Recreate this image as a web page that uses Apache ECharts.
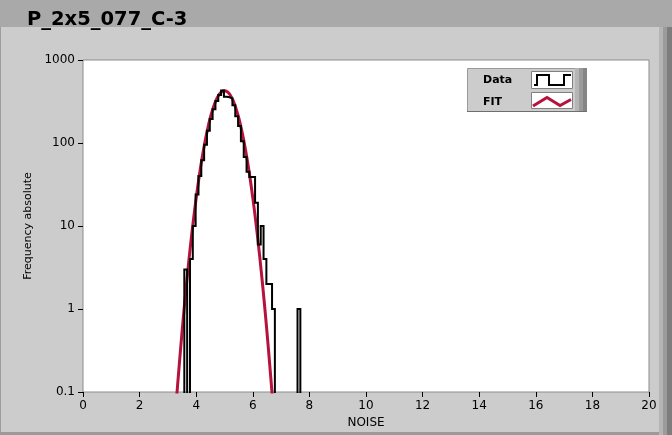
<!DOCTYPE html>
<html><head><meta charset="utf-8">
<script src="https://cdn.jsdelivr.net/npm/echarts@6/dist/echarts.min.js"></script>
<style>html,body{margin:0;padding:0;background:#cccccc;}#c{width:672px;height:435px;}</style>
</head><body><div id="c"></div>
<script>
// ---- data ----
const chartTitle = 'P_2x5_077_C-3';
const xName = 'NOISE';
const yName = 'Frequency absolute';
const xTicks = [0, 2, 4, 6, 8, 10, 12, 14, 16, 18, 20];
const yTicks = [0.1, 1, 10, 100, 1000];
const seriesNames = ['Data', 'FIT'];
// histogram: first bin left edge, bin width, counts per bin
const binStart = 3.58;
const binWidth = 0.1;
const dataCounts = [3, 0, 4, 10, 24, 40, 62, 95, 140, 195, 255, 320, 380, 430,
  360, 355, 345, 285, 210, 160, 105, 68, 45, 39, 39, 19, 6, 10, 4, 2, 2, 1,
  0, 0, 0, 0, 0, 0, 0, 0, 1];
// fitted curve, read at points along x
const fitX = [3.2, 3.3, 3.4, 3.5, 3.6, 3.7, 3.8, 3.9, 4.0, 4.1, 4.2, 4.3, 4.4, 4.5, 4.6, 4.7, 4.8, 4.9, 5.0,
  5.1, 5.2, 5.3, 5.4, 5.5, 5.6, 5.7, 5.8, 5.9, 6.0, 6.1, 6.2, 6.3, 6.4, 6.5, 6.6, 6.7, 6.8];
const fitY = [0.028, 0.079, 0.21, 0.53, 1.26, 2.8, 5.9, 11.7, 21.8, 38.4, 63.6, 99.5, 146, 203, 265, 327, 379, 414, 427,
  414, 379, 327, 265, 203, 146, 99.5, 63.6, 38.4, 21.8, 11.7, 5.9, 2.8, 1.26, 0.53, 0.21, 0.079, 0.028];

// ---- build series ----
const FLOOR = 0.001; // empty bins drop below the log axis
const dataLine = [[binStart, FLOOR]];
let lastEdge = binStart;
dataCounts.forEach((c, i) => {
  const l = +(binStart + i * binWidth).toFixed(3);
  const r = +(l + binWidth).toFixed(3);
  const v = c > 0 ? c : FLOOR;
  dataLine.push([l, v], [r, v]);
  lastEdge = r;
});
dataLine.push([lastEdge, FLOOR]);
const fitLine = fitX.map((x, i) => [x, fitY[i]]);

const FONT = 'DejaVu Sans';
const RED = '#b5123e';
const chart = echarts.init(document.getElementById('c'), null, {renderer: 'canvas'});
chart.setOption({
  animation: false,
  backgroundColor: '#cccccc',
  title: {
    text: chartTitle, left: 27, top: 10, padding: 0,
    textStyle: {fontFamily: FONT, fontWeight: 'bold', fontSize: 19.5, color: '#000'}
  },
  grid: {left: 83, top: 60, width: 566, height: 332, show: true, backgroundColor: '#ffffff',
    borderColor: '#8c8c8c', borderWidth: 1},
  xAxis: {
    type: 'value', min: xTicks[0], max: xTicks[xTicks.length - 1], interval: xTicks[1] - xTicks[0],
    name: xName, nameLocation: 'middle', nameGap: 24,
    nameTextStyle: {fontFamily: FONT, fontSize: 12, color: '#000'},
    axisLine: {show: false},
    axisTick: {show: true, length: 5, lineStyle: {color: '#000'}},
    axisLabel: {fontFamily: FONT, fontSize: 12, color: '#000', margin: 8},
    splitLine: {show: false}
  },
  yAxis: {
    type: 'log', logBase: 10, min: yTicks[0], max: yTicks[yTicks.length - 1],
    name: yName, nameLocation: 'middle', nameGap: 43,
    nameTextStyle: {fontFamily: FONT, fontSize: 11, color: '#000'},
    axisLine: {show: false},
    axisTick: {show: true, length: 5, lineStyle: {color: '#000'}},
    minorTick: {show: false},
    axisLabel: {fontFamily: FONT, fontSize: 12, color: '#000', margin: 8,
      formatter: v => String(+v.toPrecision(3))},
    splitLine: {show: false}
  },
  series: [
    {name: seriesNames[1], type: 'line', data: fitLine, smooth: true, showSymbol: false, clip: true,
      lineStyle: {color: RED, width: 3}, itemStyle: {color: RED}, z: 2},
    {name: seriesNames[0], type: 'line', data: dataLine, showSymbol: false, clip: true,
      lineStyle: {color: '#000', width: 2, join: 'miter'}, itemStyle: {color: '#000'}, z: 3}
  ],
  graphic: [
    {type: 'rect', z: -1, shape: {x: 0, y: 0, width: 672, height: 27}, style: {fill: '#a9a9a9'}},
    {type: 'rect', z: -1, shape: {x: 0, y: 27, width: 1, height: 408}, style: {fill: '#9e9e9e'}},
    {type: 'rect', z: -1, shape: {x: 0, y: 432, width: 659, height: 3}, style: {fill: '#9a9a9a'}},
    {type: 'rect', z: -1, shape: {x: 659, y: 27, width: 4, height: 408}, style: {fill: '#b5b5b5'}},
    {type: 'rect', z: -1, shape: {x: 663, y: 27, width: 4, height: 408}, style: {fill: '#9b9b9b'}},
    {type: 'rect', z: -1, shape: {x: 667, y: 27, width: 5, height: 408}, style: {fill: '#7d7d7d'}},
    // legend
    {type: 'group', z: 100, children: [
      {type: 'rect', shape: {x: 467.5, y: 68.5, width: 108, height: 43}, style: {fill: '#cccccc', stroke: '#9a9a9a', lineWidth: 1}},
      {type: 'rect', shape: {x: 575, y: 68, width: 4, height: 44}, style: {fill: '#b5b5b5'}},
      {type: 'rect', shape: {x: 579, y: 68, width: 4, height: 44}, style: {fill: '#9b9b9b'}},
      {type: 'rect', shape: {x: 583, y: 68, width: 4, height: 44}, style: {fill: '#858585'}},
      {type: 'rect', shape: {x: 467, y: 111, width: 120, height: 1}, style: {fill: '#6e6e6e'}},
      {type: 'text', style: {x: 483, y: 80, text: seriesNames[0], fill: '#000', font: 'bold 11px "DejaVu Sans"', verticalAlign: 'middle'}},
      {type: 'text', style: {x: 483, y: 102, text: seriesNames[1], fill: '#000', font: 'bold 11px "DejaVu Sans"', verticalAlign: 'middle'}},
      {type: 'rect', shape: {x: 531.5, y: 71.5, width: 41, height: 17}, style: {fill: '#fff', stroke: '#808080', lineWidth: 1}},
      {type: 'rect', shape: {x: 531.5, y: 92.5, width: 41, height: 16}, style: {fill: '#fff', stroke: '#808080', lineWidth: 1}},
      {type: 'polyline', shape: {points: [[534, 85], [537, 85], [537, 75], [549, 75], [549, 85], [564, 85], [564, 75], [571, 75]]},
        style: {stroke: '#000', lineWidth: 2, fill: null}},
      {type: 'polyline', shape: {points: [[533, 106], [547, 97.5], [560, 105.5], [571, 99.5]]},
        style: {stroke: RED, lineWidth: 3, fill: null}}
    ]}
  ]
});
</script></body></html>
